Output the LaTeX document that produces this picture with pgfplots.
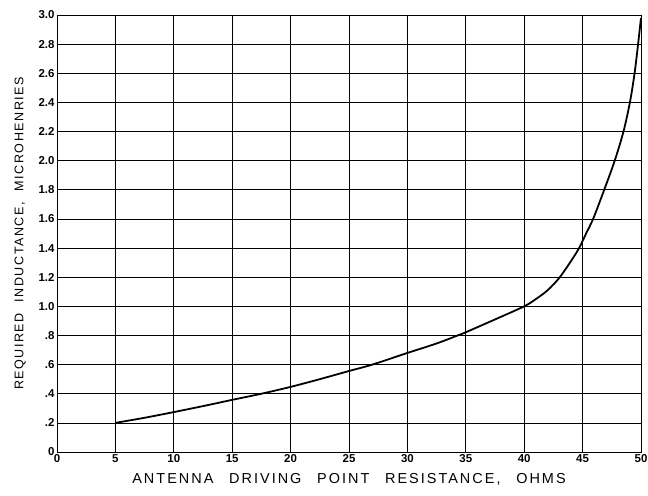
\documentclass[border=0pt]{standalone}
\usepackage{pgfplots}
\pgfplotsset{compat=1.18}
\usepackage{fontspec}
\setmainfont{Liberation Sans}
\newfontfamily\labfont[LetterSpace=12,WordSpace=2.2]{Liberation Sans}
\newfontfamily\xlabfont[LetterSpace=14,WordSpace=2.6]{Liberation Sans}
\newfontfamily\tickfont{Liberation Sans}
\begin{document}
\begin{tikzpicture}[x=1bp,y=1bp]
\begin{axis}[
  scale only axis,
  width=584bp, height=437bp,
  xmin=0, xmax=50, ymin=0, ymax=3.0,
  xtick={0,5,...,50},
  ytick={0,0.2,...,3.0},
  yticklabels={0,.2,.4,.6,.8,1.0,1.2,1.4,1.6,1.8,2.0,2.2,2.4,2.6,2.8,3.0},
  xticklabels={0,5,10,15,20,25,30,35,40,45,50},
  grid=major,
  major grid style={black, line width=0.7pt},
  axis line style={black, line width=0.9pt},
  tick style={draw=none},
  ticklabel style={font=\tickfont\bfseries\fontsize{11.5}{13}\selectfont},
  /pgf/number format/assume math mode=true,
  yticklabel style={xshift=1bp},
  xticklabel style={yshift=1bp},
  xlabel={\xlabfont\fontsize{14.5}{16}\selectfont ANTENNA DRIVING POINT RESISTANCE, OHMS},
  ylabel={\labfont\fontsize{12.6}{14}\selectfont REQUIRED INDUCTANCE, MICROHENRIES},
  xlabel style={yshift=-4bp},
  ylabel style={yshift=6bp},
  clip=false,
]
\addplot[black, line width=1.8pt, smooth, tension=0.5] coordinates {
(5,0.2) (7.5,0.235) (10,0.274) (12.5,0.315) (15,0.358) (17.5,0.40)
(20,0.447) (22.5,0.50) (25,0.556) (27,0.60) (30,0.68) (32.5,0.745)
(34.3,0.80) (35,0.822) (37.5,0.91) (40,1.0) (41,1.05) (42,1.11)
(43,1.195) (44,1.31) (44.7,1.4) (45.3,1.5) (45.9,1.6) (46.85,1.8)
(47.75,2.0) (48.5,2.2) (49.05,2.4) (49.45,2.6) (49.75,2.8) (50,2.98)
};
\coordinate (sw) at (rel axis cs:0,0);
\end{axis}
\pgfresetboundingbox
\path (sw) ++(-57bp,-44bp) rectangle ++(648bp,496bp);
\end{tikzpicture}
\end{document}
